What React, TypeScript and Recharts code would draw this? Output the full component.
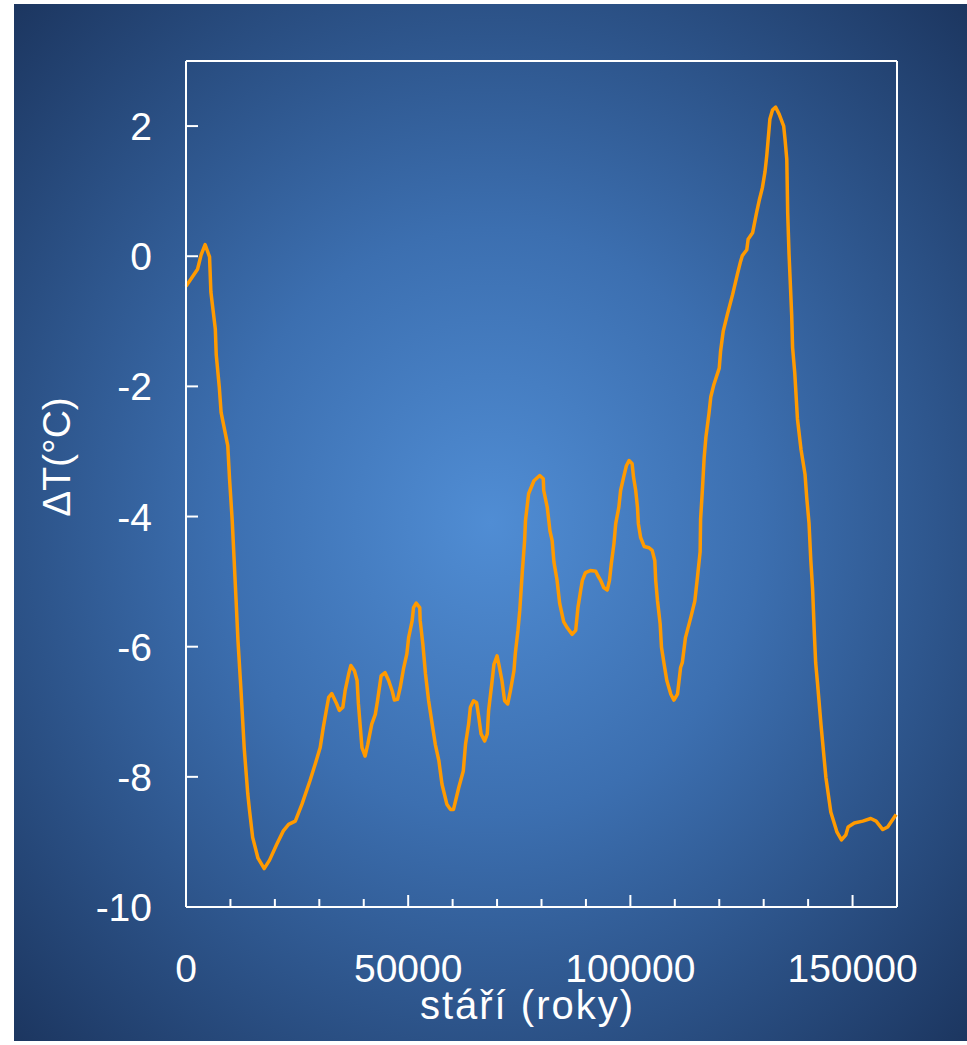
import React from "react";
import { LineChart, Line, XAxis, YAxis, ReferenceLine, Label } from "recharts";

const ages = [
  0, 2600, 3400, 4300, 5300, 5600, 6600, 6800, 7500, 7900, 9400, 9800, 10400, 11300, 11700, 12400, 13100, 13900, 14300, 15000,
  16200, 17600, 18800, 20400, 21900, 23100, 24600, 26100, 27900, 29100, 30200, 30900, 31700, 32100, 32800, 33800, 34500, 35300,
  35800, 36600, 37100, 37900, 38500, 38800, 39600, 40300, 40900, 41800, 42600, 43100, 43900, 44800, 45600, 46400, 46900, 47600,
  48200, 49000, 49700, 50100, 50900, 51200, 51800, 52600, 52700, 53300, 53900, 54600, 55400, 56100, 56900, 57600, 58700, 59500,
  60200, 61400, 62400, 62900, 63600, 64000, 64700, 65400, 65900, 66400, 67200, 67800, 68100, 68900, 69300, 70000, 70400, 71100,
  71700, 72400, 73000, 73800, 74100, 74700, 75100, 75700, 76200, 76400, 77100, 78300, 79600, 80400, 80500, 81300, 81900, 82400,
  82800, 83500, 84100, 85000, 85800, 86900, 87700, 88200, 88800, 89200, 89900, 91000, 92200, 92700, 93300, 94000, 94800, 95300,
  95700, 96300, 96700, 97400, 97800, 98500, 99100, 99700, 100400, 100700, 101200, 101600, 101800, 102300, 103100, 104200, 104900,
  105500, 105700, 106100, 106700, 107000, 107600, 108200, 109100, 109800, 110600, 111300, 111700, 112400, 113600, 114500, 115100,
  115700, 115800, 116200, 116600, 117000, 117700, 118100, 118800, 120000, 120300, 120900, 121800, 123000, 124100, 124800, 125200,
  126200, 126500, 127500, 128400, 129000, 129700, 130300, 130700, 131200, 131400, 132000, 132700, 133500, 134500, 134800, 135200,
  135400, 135700, 136300, 136500, 137000, 137600, 138400, 139300, 139700, 140200, 140600, 141000, 141400, 141700, 142100, 142900,
  144000, 145100, 146500, 147500, 148500, 149000, 150400, 152300, 154100, 155300, 156800, 157900, 159000, 159800,
];

const deltaT = [
  -0.46, -0.2, 0.02, 0.18, -0.01, -0.55, -1.12, -1.51, -2.02, -2.4, -2.91, -3.42, -4.06, -5.33, -5.91, -6.7, -7.56, -8.26, -8.52, -8.93,
  -9.25, -9.41, -9.28, -9.04, -8.83, -8.73, -8.68, -8.42, -8.06, -7.8, -7.55, -7.24, -6.93, -6.78, -6.72, -6.86, -6.98, -6.93,
  -6.68, -6.42, -6.29, -6.37, -6.52, -6.88, -7.55, -7.68, -7.5, -7.19, -7.04, -6.83, -6.45, -6.4, -6.52, -6.68, -6.82, -6.81,
  -6.63, -6.32, -6.11, -5.86, -5.6, -5.4, -5.33, -5.4, -5.6, -5.96, -6.42, -6.83, -7.19, -7.5, -7.75, -8.11, -8.42, -8.5,
  -8.5, -8.16, -7.91, -7.5, -7.19, -6.93, -6.83, -6.86, -7.09, -7.34, -7.45, -7.34, -6.98, -6.52, -6.27, -6.14, -6.27, -6.52,
  -6.83, -6.88, -6.68, -6.37, -6.11, -5.75, -5.45, -4.83, -4.37, -4.06, -3.65, -3.45, -3.37, -3.42, -3.6, -3.86, -4.22, -4.37,
  -4.7, -4.98, -5.34, -5.62, -5.71, -5.81, -5.75, -5.4, -5.14, -4.98, -4.86, -4.83, -4.84, -4.91, -4.98, -5.09, -5.13, -4.98,
  -4.73, -4.42, -4.11, -3.86, -3.6, -3.39, -3.22, -3.14, -3.19, -3.39, -3.6, -3.86, -4.11, -4.32, -4.46, -4.48, -4.52,
  -4.68, -4.98, -5.29, -5.65, -6.01, -6.27, -6.52, -6.73, -6.82, -6.73, -6.32, -6.24, -5.86, -5.55, -5.3, -4.93,
  -4.54, -4.04, -3.6, -3.1, -2.78, -2.41, -2.16, -1.97, -1.72, -1.46, -1.15, -0.9, -0.59, -0.27, -0.08, 0.01,
  0.1, 0.26, 0.36, 0.67, 0.86, 1.05, 1.3, 1.55, 1.95, 2.11, 2.25, 2.29, 2.18, 2.0, 1.8, 1.49,
  0.67, 0.04, -0.9, -1.4, -1.8, -2.5, -2.97, -3.35, -3.72, -4.1, -4.67, -5.1, -5.8, -6.25, -6.55, -7.2,
  -8.01, -8.54, -8.85, -8.97, -8.89, -8.77, -8.71, -8.68, -8.64, -8.68, -8.81, -8.77, -8.66, -8.58,
];

const xTicks = [0, 10000, 20000, 30000, 40000, 50000, 60000, 70000, 80000, 90000, 100000, 110000, 120000, 130000, 140000, 150000, 160000];
const xLabelled = [0, 50000, 100000, 150000];
const yTicks = [-10, -8, -6, -4, -2, 0, 2];

const xTitle = "stáří (roky)";
const yTitle = "ΔT(°C)";

const data = ages.map((age, i) => ({ age, dT: deltaT[i] }));

const FONT = "'Liberation Sans', Arial, Helvetica, sans-serif";
const WHITE = "#ffffff";

const XTick = (props: any) => {
  const { x, y, payload } = props;
  const major = xLabelled.includes(payload.value);
  return (
    <g>
      <line x1={x} x2={x} y1={y} y2={y - (major ? 12 : 8)} stroke={WHITE} strokeWidth={2} />
      {major && (
        <text x={x} y={y + 75} textAnchor="middle" fill={WHITE} fontSize={39} fontFamily={FONT}>
          {payload.value}
        </text>
      )}
    </g>
  );
};

const YTick = (props: any) => {
  const { x, y, payload } = props;
  return (
    <g>
      <line x1={x} x2={x + 12} y1={y} y2={y} stroke={WHITE} strokeWidth={2} />
      <text x={x - 34} y={y + 14} textAnchor="end" fill={WHITE} fontSize={39} fontFamily={FONT}>
        {payload.value}
      </text>
    </g>
  );
};

const XTitle = (props: any) => {
  const vb = props.viewBox || { x: 186, y: 907, width: 711, height: 138 };
  return (
    <text
      x={vb.x + vb.width / 2 - 14}
      y={vb.y + 112}
      textAnchor="middle"
      fill={WHITE}
      fontSize={40}
      letterSpacing={2}
      fontFamily={FONT}
    >
      {xTitle}
    </text>
  );
};

const YTitle = (props: any) => {
  const vb = props.viewBox || { x: 0, y: 61, width: 186, height: 846 };
  const cx = vb.x + 70;
  const cy = vb.y + vb.height / 2 - 27;
  return (
    <text x={cx} y={cy} transform={`rotate(-90 ${cx} ${cy})`} textAnchor="middle" fill={WHITE} fontSize={39} fontFamily={FONT}>
      {yTitle}
    </text>
  );
};

export default function App() {
  return (
    <div style={{ position: "absolute", left: 0, top: 0, width: 967, height: 1045, background: "#ffffff", overflow: "hidden" }}>
      <div
        style={{
          position: "absolute",
          left: 14,
          top: 4,
          width: 953,
          height: 1037,
          background: "radial-gradient(ellipse farthest-corner at 50% 50%, #508dd4 0%, #3c6fb0 40%, #1c3660 100%)",
        }}
      />
      <div style={{ position: "absolute", left: 0, top: 0 }}>
        <LineChart width={967} height={1045} data={data} margin={{ top: 61, right: 70, bottom: 0, left: 0 }}>
          <XAxis
            xAxisId="main"
            dataKey="age"
            type="number"
            domain={[0, 160000]}
            ticks={xTicks}
            interval={0}
            height={138}
            tickSize={0}
            tickMargin={0}
            tickLine={false}
            axisLine={{ stroke: WHITE, strokeWidth: 2 }}
            tick={<XTick />}
          >
            <Label content={<XTitle />} />
          </XAxis>
          <YAxis
            yAxisId="main"
            type="number"
            domain={[-10, 3]}
            ticks={yTicks}
            interval={0}
            width={186}
            tickSize={0}
            tickMargin={0}
            tickLine={false}
            axisLine={{ stroke: WHITE, strokeWidth: 2 }}
            tick={<YTick />}
          >
            <Label content={<YTitle />} />
          </YAxis>
          <ReferenceLine xAxisId="main" yAxisId="main" y={3} stroke={WHITE} strokeWidth={2} />
          <ReferenceLine xAxisId="main" yAxisId="main" x={160000} stroke={WHITE} strokeWidth={2} />
          <Line
            xAxisId="main"
            yAxisId="main"
            dataKey="dT"
            type="linear"
            stroke="#ff9a00"
            strokeWidth={3.5}
            strokeLinejoin="round"
            dot={false}
            activeDot={false}
            isAnimationActive={false}
          />
        </LineChart>
      </div>
    </div>
  );
}
